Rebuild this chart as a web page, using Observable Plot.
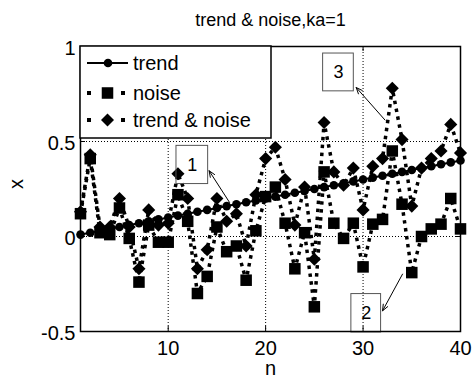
<!DOCTYPE html>
<html>
<head>
<meta charset="utf-8">
<script src="https://cdn.jsdelivr.net/npm/d3@7"></script>
<script src="https://cdn.jsdelivr.net/npm/@observablehq/plot@0.6"></script>
<style>
  html, body { margin: 0; padding: 0; background: #fff; }
  #chart { width: 472px; height: 381px; }
</style>
</head>
<body>
<div id="chart"></div>
<script>
// ---- data ----
const n = [1,2,3,4,5,6,7,8,9,10,11,12,13,14,15,16,17,18,19,20,21,22,23,24,25,26,27,28,29,30,31,32,33,34,35,36,37,38,39,40];
const trend = [0.01,0.02,0.03,0.04,0.05,0.06,0.07,0.08,0.09,0.10,0.11,0.12,0.13,0.14,0.15,0.16,0.17,0.18,0.19,0.20,0.21,0.22,0.23,0.24,0.25,0.26,0.27,0.28,0.29,0.30,0.31,0.32,0.33,0.34,0.35,0.36,0.37,0.38,0.39,0.40];
const noise = [0.12,0.41,0.02,0.01,0.15,-0.01,-0.24,0.06,-0.03,-0.03,0.22,0.08,-0.30,-0.21,0.05,-0.08,-0.05,-0.23,0.03,0.21,0.26,0.07,-0.17,0.02,-0.37,0.34,0.07,-0.01,0.07,-0.16,0.065,0.09,0.45,0.17,-0.19,0.00,0.04,0.065,0.20,0.04];
const trendNoise = [0.13,0.43,0.05,0.05,0.20,0.05,-0.17,0.14,0.06,0.07,0.33,0.20,-0.17,-0.07,0.20,0.08,0.12,-0.05,0.22,0.41,0.47,0.30,0.06,0.26,-0.12,0.60,0.34,0.27,0.36,0.14,0.37,0.41,0.78,0.51,0.16,0.36,0.41,0.45,0.59,0.44];

const xTicks = [10,20,30,40];
const yTicks = [-0.5,0,0.5,1];
const yTickLabels = ["-0.5","0","0.5","1"];
const xGrid = [10,20,30];
const yGrid = [0,0.5];

const legendLabels = ["trend","noise","trend & noise"];

// annotations
const annLabels = ["1","2","3"];
const annBoxN1 = [10.85, 28.8, 25.9];
const annBoxN2 = [14.1, 31.85, 29.05];
const annBoxY1 = [0.276, -0.505, 0.764];
const annBoxY2 = [0.477, -0.303, 0.963];
const annTailN = [16.3, 34.05, 32.25];
const annTailY = [0.179, -0.198, 0.613];
const annHeadN = [14.2, 32.0, 29.3];
const annHeadY = [0.346, -0.391, 0.784];

const title = "trend & noise,ka=1";
const xLabel = "n";
const yLabel = "x";

// ---- build ----
const data = n.map((v, i) => ({n: v, trend: trend[i], noise: noise[i], tn: trendNoise[i]}));
const ann = annLabels.map((t, i) => ({
  t, bx1: annBoxN1[i], bx2: annBoxN2[i], by1: annBoxY1[i], by2: annBoxY2[i],
  tx: annTailN[i], ty: annTailY[i], hx: annHeadN[i], hy: annHeadY[i]
}));

const W = 472, H = 381, mL = 80, mR = 12, mT = 46, mB = 50;
const fH = H - mT - mB, fW = W - mL - mR;
const font = "Liberation Sans, Arial, Helvetica, sans-serif";
const dotted = {stroke: "#000", strokeWidth: 3.5, strokeDasharray: "3.5,4.5", strokeLinecap: "butt"};

const plot = Plot.plot({
  width: W, height: H,
  marginLeft: mL, marginRight: mR, marginTop: mT, marginBottom: mB,
  style: {fontFamily: font, fontSize: "20px", color: "#000", background: "#fff", overflow: "visible"},
  x: {domain: [1, 40]},
  y: {domain: [-0.5, 1]},
  marks: [
    Plot.ruleX(xGrid, {x: d => d, stroke: "#000", strokeWidth: 1, strokeDasharray: "1,2"}),
    Plot.ruleY(yGrid, {y: d => d, stroke: "#000", strokeWidth: 1, strokeDasharray: "1,2"}),
    // trend
    Plot.line(data, {x: "n", y: "trend", stroke: "#000", strokeWidth: 2}),
    Plot.dot(data, {x: "n", y: "trend", symbol: "circle", r: 4.3, fill: "#000", stroke: "none"}),
    // noise
    Plot.line(data, {x: "n", y: "noise", ...dotted}),
    Plot.dot(data, {x: "n", y: "noise", symbol: "square", r: 6.5, fill: "#000", stroke: "none"}),
    // trend & noise
    Plot.line(data, {x: "n", y: "tn", ...dotted}),
    Plot.dot(data, {x: "n", y: "tn", symbol: "diamond2", r: 5.9, fill: "#000", stroke: "none"}),
    // annotations
    Plot.rect(ann, {x1: "bx1", x2: "bx2", y1: "by1", y2: "by2", fill: "none", stroke: "#555", strokeWidth: 1}),
    Plot.text(ann, {x: d => (d.bx1 + d.bx2) / 2, y: d => (d.by1 + d.by2) / 2, text: "t", fontSize: 18, fill: "#000"}),
    Plot.arrow(ann, {x1: "tx", y1: "ty", x2: "hx", y2: "hy", stroke: "#000", strokeWidth: 1, headLength: 10, headAngle: 45}),
    // frame & inward ticks
    Plot.frame({stroke: "#000", strokeWidth: 1.5}),
    Plot.tickX(xTicks, {x: d => d, insetTop: fH - 5, stroke: "#000"}),
    Plot.tickX(xTicks, {x: d => d, insetBottom: fH - 5, stroke: "#000"}),
    Plot.tickY(yTicks, {y: d => d, insetRight: fW - 5, stroke: "#000"}),
    Plot.tickY(yTicks, {y: d => d, insetLeft: fW - 5, stroke: "#000"}),
    Plot.axisX(xTicks, {tickSize: 0, tickPadding: 9, fontSize: 20, label: null, tickFormat: d => String(d)}),
    Plot.axisY(yTicks, {tickSize: 0, tickPadding: 5, fontSize: 20, dy: 2, label: null, tickFormat: d => yTickLabels[yTicks.indexOf(d)]}),
    // title & labels
    Plot.text([title], {frameAnchor: "top", dy: -33, text: d => d, fontSize: 18, fill: "#000"}),
    Plot.text([xLabel], {frameAnchor: "bottom", dy: 43, text: d => d, fontSize: 20, fill: "#000"}),
    Plot.text([yLabel], {frameAnchor: "left", dx: -64, rotate: -90, text: d => d, fontSize: 20, fill: "#000"})
  ]
});

document.getElementById("chart").appendChild(plot);

// ---- legend (inside axes, top-left) ----
const svg = d3.select(plot);
const lg = svg.append("g").attr("font-family", font).attr("font-size", 20).attr("text-anchor", "start");
const lx = mL, ly = mT, lw = 191, lh = 92;
lg.append("rect").attr("x", lx).attr("y", ly).attr("width", lw).attr("height", lh)
  .attr("fill", "#fff").attr("stroke", "#000").attr("stroke-width", 1.5);
const rowY = [63, 93, 120];
legendLabels.forEach((lab, i) => {
  const y = rowY[i];
  const g = lg.append("g");
  if (i === 0) {
    g.append("line").attr("x1", 87).attr("x2", 128).attr("y1", y).attr("y2", y).attr("stroke", "#000").attr("stroke-width", 2);
    g.append("circle").attr("cx", 108).attr("cy", y).attr("r", 4.3).attr("fill", "#000");
  } else {
    g.append("rect").attr("x", 87).attr("y", y - 2).attr("width", 4).attr("height", 4).attr("fill", "#000");
    g.append("rect").attr("x", 121).attr("y", y - 2).attr("width", 4).attr("height", 4).attr("fill", "#000");
    if (i === 1) {
      const s = 6.5 * Math.sqrt(Math.PI);
      g.append("rect").attr("x", 107.5 - s / 2).attr("y", y - s / 2).attr("width", s).attr("height", s).attr("fill", "#000");
    } else {
      const h = 6.5;
      g.append("path").attr("d", `M107.5,${y - h}L${107.5 + h},${y}L107.5,${y + h}L${107.5 - h},${y}Z`).attr("fill", "#000");
    }
  }
  g.append("text").attr("x", 133).attr("y", y).attr("dy", "0.35em").attr("text-anchor", "start").attr("fill", "#000").text(lab);
});
</script>
</body>
</html>
